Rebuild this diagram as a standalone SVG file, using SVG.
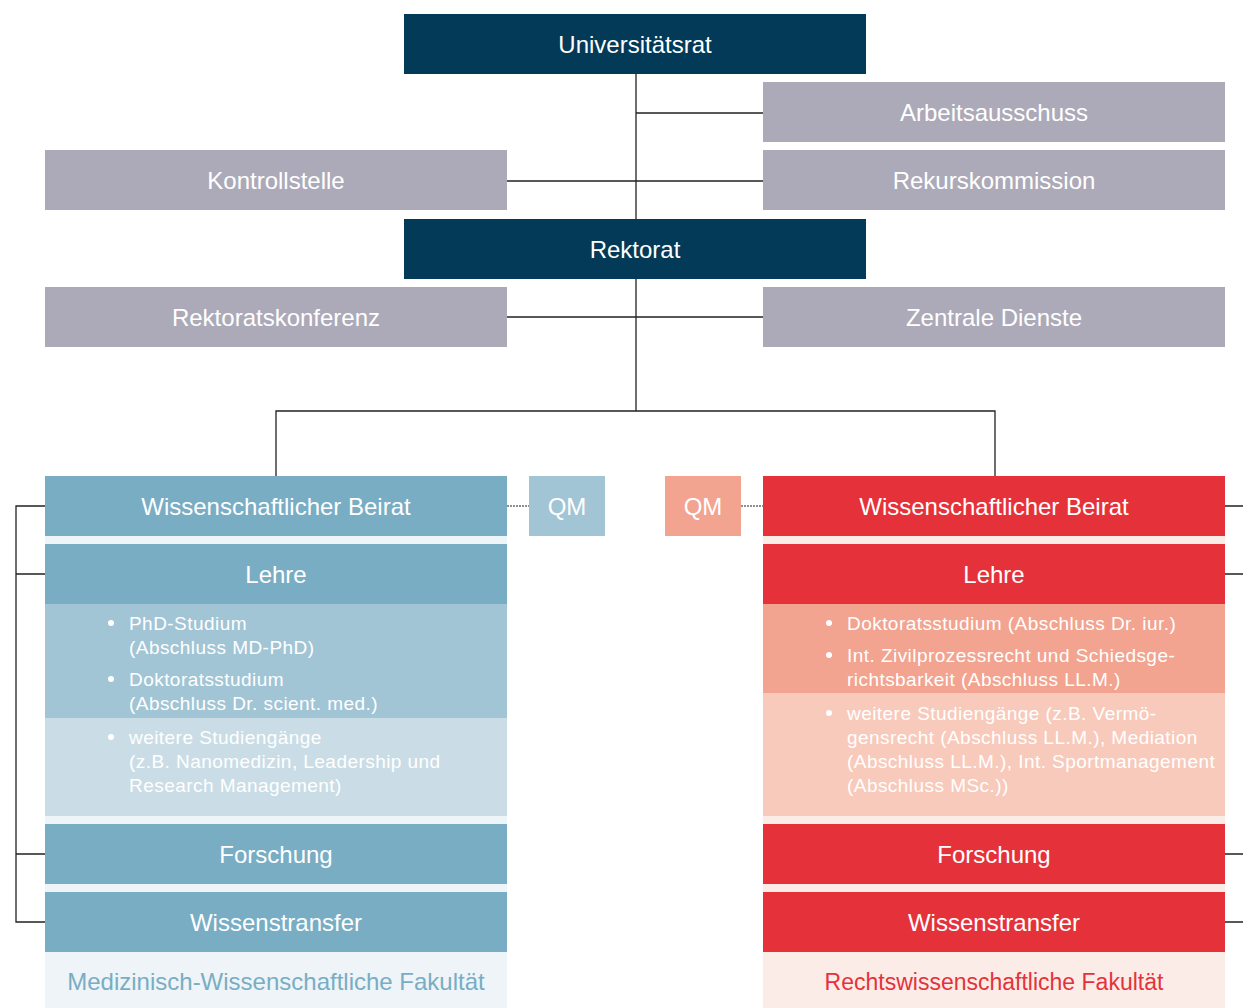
<svg xmlns="http://www.w3.org/2000/svg" width="1243" height="1008" viewBox="0 0 1243 1008">
<style>
text{font-family:"Liberation Sans",Arial,sans-serif}
.t{font-size:24px;fill:#fff;text-anchor:middle}
.b{font-size:19px;fill:#fff;letter-spacing:0.45px}
.dark{fill:#023a57}
.gray{fill:#acaab8}
.blue{fill:#78adc4}
.red{fill:#e5323a}
.ln{stroke:#222;stroke-width:1.3;fill:none}
.dot{stroke:#222;stroke-width:1.2;stroke-dasharray:2 1;fill:none}
</style>
<rect width="1243" height="1008" fill="#fff"/>
<g id="connectors">
<path class="ln" d="M636 74V411M636 113H763M507 181H763M507 317H763M276 476V411H995V476"/>
<path class="ln" d="M45 506H16V922H45M16 574H45M16 854H45"/>
<path class="ln" d="M1225 506H1243M1225 574H1243M1225 854H1243M1225 922H1243"/>
<path class="dot" d="M507 506H529M741 506H763"/>
</g>
<g id="universitaetsrat"><rect class="dark" x="404" y="14" width="462" height="60"/><text class="t" x="635" y="53">Universitätsrat</text></g>
<g id="arbeitsausschuss"><rect class="gray" x="763" y="82" width="462" height="60"/><text class="t" x="994" y="121">Arbeitsausschuss</text></g>
<g id="kontrollstelle"><rect class="gray" x="45" y="150" width="462" height="60"/><text class="t" x="276" y="189">Kontrollstelle</text></g>
<g id="rekurskommission"><rect class="gray" x="763" y="150" width="462" height="60"/><text class="t" x="994" y="189">Rekurskommission</text></g>
<g id="rektorat"><rect class="dark" x="404" y="219" width="462" height="60"/><text class="t" x="635" y="258">Rektorat</text></g>
<g id="rektoratskonferenz"><rect class="gray" x="45" y="287" width="462" height="60"/><text class="t" x="276" y="326">Rektoratskonferenz</text></g>
<g id="zentrale-dienste"><rect class="gray" x="763" y="287" width="462" height="60"/><text class="t" x="994" y="326">Zentrale Dienste</text></g>

<g id="med-fakultaet">
<rect x="45" y="476" width="462" height="532" fill="#eef4f8"/>
<rect class="blue" x="45" y="476" width="462" height="60"/><text class="t" x="276" y="515">Wissenschaftlicher Beirat</text>
<rect class="blue" x="45" y="544" width="462" height="60"/><text class="t" x="276" y="583">Lehre</text>
<rect x="45" y="604" width="462" height="114" fill="#a2c5d5"/>
<rect x="45" y="718" width="462" height="98" fill="#cadde6"/>
<g class="b">
<circle cx="111" cy="623" r="3" fill="#fff"/>
<text x="129" y="630">PhD-Studium</text>
<text x="129" y="654">(Abschluss MD-PhD)</text>
<circle cx="111" cy="679" r="3" fill="#fff"/>
<text x="129" y="686">Doktoratsstudium</text>
<text x="129" y="710">(Abschluss Dr. scient. med.)</text>
<circle cx="111" cy="737" r="3" fill="#fff"/>
<text x="129" y="744">weitere Studiengänge</text>
<text x="129" y="768">(z.B. Nanomedizin, Leadership und</text>
<text x="129" y="792">Research Management)</text>
</g>
<rect class="blue" x="45" y="824" width="462" height="60"/><text class="t" x="276" y="863">Forschung</text>
<rect class="blue" x="45" y="892" width="462" height="60"/><text class="t" x="276" y="931">Wissenstransfer</text>
<text class="t" x="276" y="990" style="fill:#78adc4">Medizinisch-Wissenschaftliche Fakultät</text>
</g>

<g id="qm-links"><rect x="529" y="476" width="76" height="60" fill="#a2c5d5"/><text class="t" x="567" y="515">QM</text></g>
<g id="qm-rechts"><rect x="665" y="476" width="76" height="60" fill="#f3a491"/><text class="t" x="703" y="515">QM</text></g>

<g id="rechts-fakultaet">
<rect x="763" y="476" width="462" height="532" fill="#fcece8"/>
<rect class="red" x="763" y="476" width="462" height="60"/><text class="t" x="994" y="515">Wissenschaftlicher Beirat</text>
<rect class="red" x="763" y="544" width="462" height="60"/><text class="t" x="994" y="583">Lehre</text>
<rect x="763" y="604" width="462" height="89" fill="#f2a490"/>
<rect x="763" y="693" width="462" height="123" fill="#f8cabb"/>
<g class="b">
<circle cx="829" cy="623" r="3" fill="#fff"/>
<text x="847" y="630">Doktoratsstudium (Abschluss Dr. iur.)</text>
<circle cx="829" cy="655" r="3" fill="#fff"/>
<text x="847" y="662">Int. Zivilprozessrecht und Schiedsge-</text>
<text x="847" y="686">richtsbarkeit (Abschluss LL.M.)</text>
<circle cx="829" cy="713" r="3" fill="#fff"/>
<text x="847" y="720">weitere Studiengänge (z.B. Vermö-</text>
<text x="847" y="744">gensrecht (Abschluss LL.M.), Mediation</text>
<text x="847" y="768">(Abschluss LL.M.), Int. Sportmanagement</text>
<text x="847" y="792">(Abschluss MSc.))</text>
</g>
<rect class="red" x="763" y="824" width="462" height="60"/><text class="t" x="994" y="863">Forschung</text>
<rect class="red" x="763" y="892" width="462" height="60"/><text class="t" x="994" y="931">Wissenstransfer</text>
<text class="t" x="994" y="990" style="fill:#e5323a;font-size:23px">Rechtswissenschaftliche Fakultät</text>
</g>
</svg>
